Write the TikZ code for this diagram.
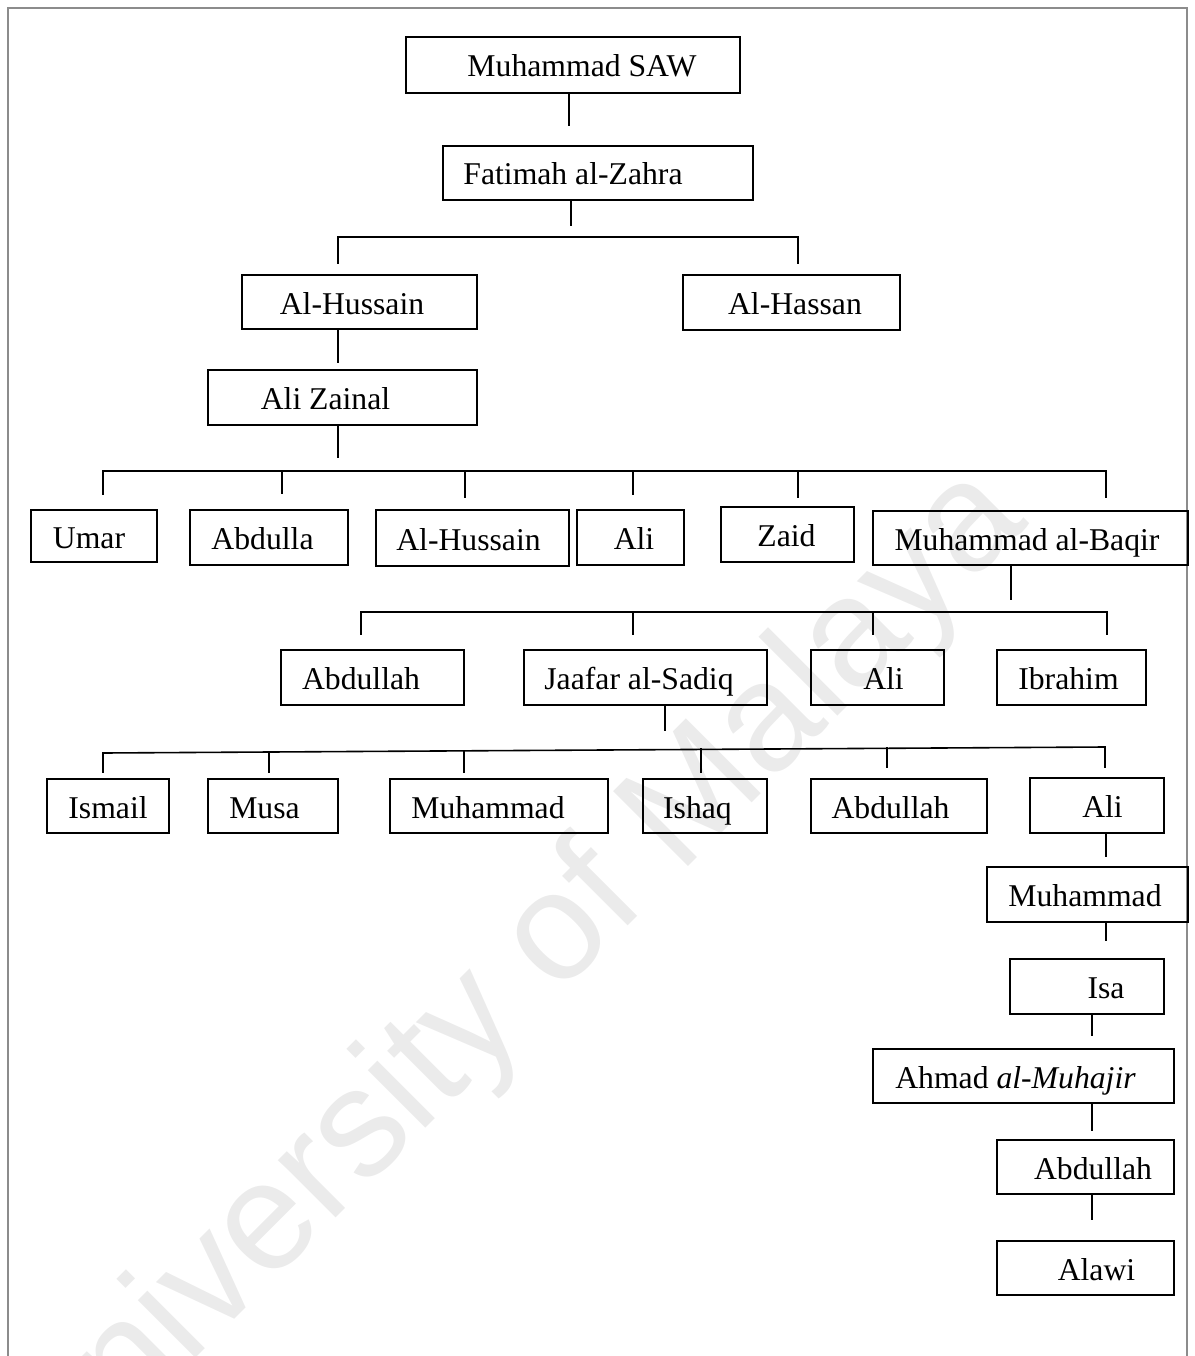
\documentclass[tikz,border=0pt]{standalone}
\usepackage{fontspec}
\setmainfont{Liberation Serif}
\newfontfamily\wmfont{Liberation Sans}
\usepackage{tikz}
\usetikzlibrary{calc,positioning}
\tikzset{
  famBox/.style={rectangle,draw=black,line width=1.6pt,inner sep=0pt,
                 text height=24pt,text depth=0pt,
                 font=\fontsize{31.7}{38}\selectfont},
  famLink/.style={line width=1.6pt,black,line cap=rect},
  tshift/.style={execute at begin node={\hspace*{#1}}},
  frameLine/.style={line width=2pt,draw=black!45},
  wmText/.style={rotate=45,anchor=base,text=black!8,
                 font=\wmfont\fontsize{154}{154}\selectfont},
}

\begin{document}
\begin{tikzpicture}[x=1pt,y=-1pt]
  \useasboundingbox (0,0) rectangle (1194,1356);
  \clip (0,0) rectangle (1194,1356);
  % watermark and page frame
  \node[wmText] (wm) at (540,1014) {University of Malaya};
  \draw[frameLine] (8,1356) |- (1187,8) -- (1187,1356);

  % top of the line
  \node[famBox,minimum width=334pt,minimum height=56pt,tshift=18pt] (saw) at (573,65) {Muhammad SAW};
  \node[famBox,minimum width=310pt,minimum height=54pt,tshift=-50pt] (fatimah) at (598,173) {Fatimah al-Zahra};
  \node[famBox,minimum width=235pt,minimum height=54pt,tshift=-15pt] (hussain) at (359.5,302) {Al-Hussain};
  \node[famBox,minimum width=217pt,minimum height=55pt,tshift=7pt] (hassan) at (791.5,302.5) {Al-Hassan};
  \node[famBox,minimum width=269pt,minimum height=55pt,tshift=-34pt] (zainal) at (342.5,397.5) {Ali Zainal};

  % sons of Ali Zainal
  \node[famBox,minimum width=126pt,minimum height=52pt,tshift=-10pt] (umar) at (94,536) {Umar};
  \node[famBox,minimum width=158pt,minimum height=55pt,tshift=-13pt] (abdulla) at (269,537.5) {Abdulla};
  \node[famBox,minimum width=193pt,minimum height=56pt,tshift=-8pt] (hussainB) at (472.5,538) {Al-Hussain};
  \node[famBox,minimum width=107pt,minimum height=55pt,tshift=7pt] (aliA) at (630.5,537.5) {Ali};
  \node[famBox,minimum width=133pt,minimum height=55pt,tshift=-2pt] (zaid) at (787.5,534.5) {Zaid};
  \node[famBox,minimum width=315pt,minimum height=54pt,tshift=-7pt] (baqir) at (1030.5,538) {Muhammad al-Baqir};

  % sons of al-Baqir
  \node[famBox,minimum width=183pt,minimum height=55pt,tshift=-23pt] (abdullahA) at (372.5,677.5) {Abdullah};
  \node[famBox,minimum width=243pt,minimum height=55pt,tshift=-13pt] (jaafar) at (645.5,677.5) {Jaafar al-Sadiq};
  \node[famBox,minimum width=133pt,minimum height=55pt,tshift=12pt] (aliB) at (877.5,677.5) {Ali};
  \node[famBox,minimum width=149pt,minimum height=55pt,tshift=-6pt] (ibrahim) at (1071.5,677.5) {Ibrahim};

  % sons of Jaafar al-Sadiq
  \node[famBox,minimum width=122pt,minimum height=54pt] (ismail) at (108,806) {Ismail};
  \node[famBox,minimum width=130pt,minimum height=54pt,tshift=-17pt] (musa) at (273,806) {Musa};
  \node[famBox,minimum width=218pt,minimum height=54pt,tshift=-22pt] (muhammadA) at (499,806) {Muhammad};
  \node[famBox,minimum width=124pt,minimum height=54pt,tshift=-15pt] (ishaq) at (705,806) {Ishaq};
  \node[famBox,minimum width=176pt,minimum height=54pt,tshift=-17pt] (abdullahB) at (899,806) {Abdullah};
  \node[famBox,minimum width=134pt,minimum height=55pt,tshift=11pt] (aliC) at (1097,805.5) {Ali};

  % down to Alawi
  \node[famBox,minimum width=201pt,minimum height=55pt,tshift=-5pt] (muhammadB) at (1087.5,894.5) {Muhammad};
  \node[famBox,minimum width=154pt,minimum height=55pt,tshift=38pt] (isa) at (1087,986.5) {Isa};
  \node[famBox,minimum width=301pt,minimum height=54pt,tshift=-16pt] (ahmad) at (1023.5,1076) {Ahmad \textit{al-Muhajir}};
  \node[famBox,minimum width=177pt,minimum height=54pt,tshift=15pt] (abdullahC) at (1085.5,1167) {Abdullah};
  \node[famBox,minimum width=177pt,minimum height=54pt,tshift=22pt] (alawi) at (1085.5,1268) {Alawi};

  % stubs under the boxes
  \foreach \n/\dx/\l in {saw/-4/31,fatimah/-27/24,hussain/-21.5/32,zainal/-4.5/31,
                         baqir/-19.5/33,jaafar/19.5/24,aliC/9/22,muhammadB/18.5/17,
                         isa/5/20,ahmad/68.5/26,abdullahC/6.5/24}
    {\draw[famLink] ([xshift=\dx pt]\n.south) -- ++(0,\l);}

  % brackets
  \foreach \x/\l [count=\i] in {338/26,798/26}
    {\coordinate (brA-\i) at (\x,237); \draw[famLink] (brA-\i) -- ++(0,\l);}
  \draw[famLink] (brA-1) -- (brA-2);
  \foreach \x/\l [count=\i] in {103/23,282/22,465/26,633/23,798/26,1106/26}
    {\coordinate (brB-\i) at (\x,471); \draw[famLink] (brB-\i) -- ++(0,\l);}
  \draw[famLink] (brB-1) -- (brB-6);
  \foreach \x/\l [count=\i] in {361/22,633/22,873/22,1107/22}
    {\coordinate (brC-\i) at (\x,612); \draw[famLink] (brC-\i) -- ++(0,\l);}
  \draw[famLink] (brC-1) -- (brC-4);
  \foreach \x/\y/\l [count=\i] in {103/753/19,269/752/20,464/751/21,701/749/23,887/748/19,1105/747/20}
    {\coordinate (brD-\i) at (\x,\y); \draw[famLink] (brD-\i) -- ++(0,\l);}
  \draw[famLink] (brD-1) -- (brD-6);
\end{tikzpicture}
\end{document}
